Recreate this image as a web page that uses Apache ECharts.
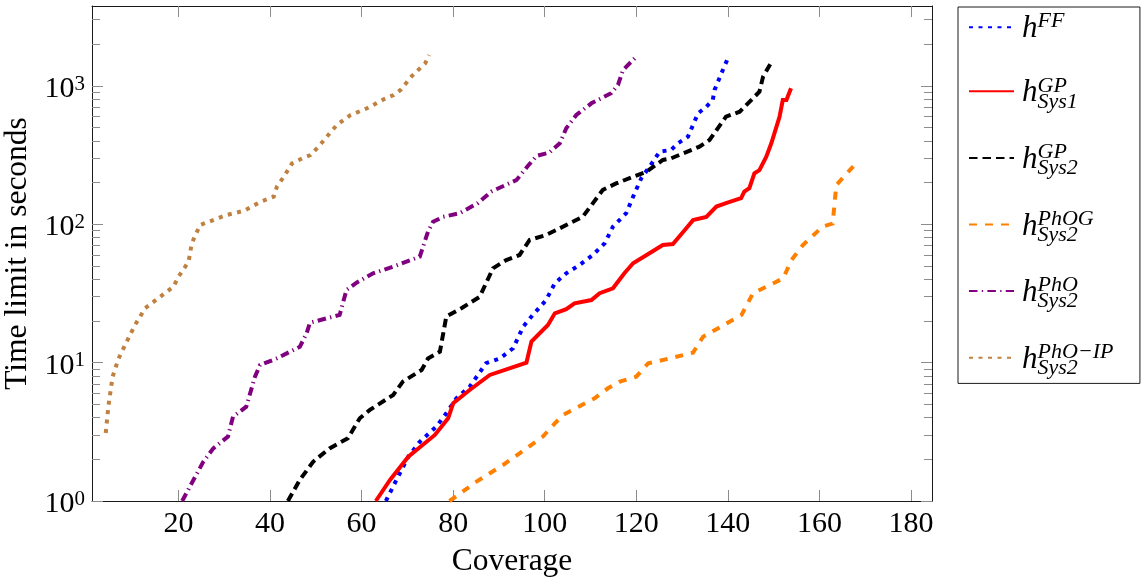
<!DOCTYPE html>
<html>
<head>
<meta charset="utf-8">
<script src="https://cdn.jsdelivr.net/npm/echarts@6/dist/echarts.min.js"></script>
<style>
  html, body { margin: 0; padding: 0; background: #fff; }
  #chart { width: 1145px; height: 583px; }
</style>
</head>
<body>
<div id="chart"></div>
<script>
// Coverage (x) and time limit in seconds (y) for each heuristic
const coverageFF = [65.3, 67.6, 70.2, 72.7, 76.3, 78.5, 80.7, 83.6, 87.2, 90.2, 93.1, 95.3, 97.4, 100.3, 102.2, 104.7, 107.6, 110.5, 113.1, 114.9, 117.8, 119.3, 121.1, 122.9, 125.1, 127.6, 129.1, 131.3, 133.5, 135.3, 136.7, 137.1, 138.6, 140.0];
const timeFF     = [1.0, 1.42, 2.09, 2.68, 3.44, 4.3, 5.52, 6.7, 9.9, 10.7, 12.7, 18.2, 22.1, 28.3, 37.4, 44.2, 50.7, 59.9, 72.8, 96, 120, 158, 215, 260, 334, 344, 384, 429, 633, 706, 789, 933, 1232, 1580];

const coverageGPSys1 = [63.1, 66.2, 70.2, 76.0, 78.9, 80.0, 83.6, 88.0, 96.0, 97.1, 100.7, 102.2, 104.7, 106.5, 110.2, 112.0, 114.9, 117.4, 119.3, 121.1, 125.8, 128.0, 130.6, 132.4, 135.3, 137.5, 139.6, 142.9, 143.6, 144.7, 145.8, 146.9, 148.4, 149.5, 151.3, 152.0, 152.8, 153.8];
const timeGPSys1     = [1.0, 1.42, 2.09, 3.0, 3.96, 5.08, 6.34, 8.14, 9.98, 14.2, 18.7, 22.7, 24.3, 26.8, 28.3, 31.7, 34.4, 44.2, 52.2, 56.7, 70.7, 71.9, 90.8, 107, 113, 134, 142, 154, 172, 182, 233, 246, 307, 384, 598, 789, 789, 959];

const coverageGPSys2 = [43.9, 46.5, 49.4, 53.0, 57.0, 59.6, 61.8, 66.9, 69.0, 73.1, 74.5, 77.1, 78.5, 81.8, 85.8, 88.7, 91.6, 94.5, 96.7, 100.3, 103.3, 108.3, 112.7, 115.6, 119.3, 122.2, 125.8, 127.6, 133.8, 136.0, 139.6, 142.6, 146.9, 147.7, 149.8];
const timeGPSys2     = [1.0, 1.42, 1.92, 2.4, 2.84, 3.96, 4.55, 5.84, 7.28, 8.84, 10.7, 12.0, 21.5, 24.7, 29.9, 48.0, 55.1, 59.9, 76.9, 83.5, 93.4, 113, 177, 197, 220, 239, 291, 299, 363, 406, 598, 650, 906, 1164, 1536];

const coveragePhOG = [79.2, 85.1, 90.9, 94.5, 99.6, 102.2, 104.0, 110.9, 113.8, 116.4, 120.0, 122.6, 125.1, 132.4, 134.6, 137.2, 143.0, 145.5, 152.1, 153.9, 156.4, 160.7, 162.9, 163.7, 168.0];
const timePhOG     = [1.0, 1.38, 1.82, 2.21, 2.92, 3.64, 4.18, 5.52, 6.52, 7.28, 7.91, 9.89, 10.3, 11.8, 15.4, 17.2, 22.1, 31.7, 40.6, 55.1, 70.7, 96, 101, 192, 275];

const coveragePhO = [20.8, 25.4, 27.6, 30.8, 31.9, 34.8, 36.7, 37.8, 41.4, 46.5, 48.0, 48.7, 55.2, 56.7, 58.9, 62.5, 66.9, 72.7, 74.5, 75.6, 77.8, 81.4, 85.4, 88.3, 93.8, 96.3, 98.2, 101.0, 103.3, 104.7, 106.9, 110.2, 114.5, 116.0, 117.1, 120.0];
const timePhO     = [1.0, 1.92, 2.4, 2.92, 4.06, 4.8, 7.9, 9.6, 10.7, 13.0, 16.3, 19.4, 22.1, 33.5, 37.8, 44.2, 49.3, 58.2, 88.3, 104, 113, 120, 142, 172, 208, 263, 311, 329, 384, 493, 615, 747, 883, 1013, 1300, 1623];

const coveragePhOIP = [4.1, 4.7, 5.6, 6.9, 8.7, 10.5, 12.7, 16.0, 18.9, 20.0, 22.2, 22.9, 24.7, 26.6, 30.3, 34.3, 37.9, 40.8, 41.5, 43.0, 44.8, 47.0, 48.8, 50.6, 52.4, 54.6, 57.6, 61.2, 64.8, 67.0, 68.5, 71.0, 73.9, 74.7];
const timePhOIP     = [3.1, 4.9, 7.9, 10.7, 14.2, 18.7, 24.7, 29.9, 35.4, 41.8, 53.6, 72.8, 98.6, 104, 116, 125, 145, 158, 187, 220, 275, 299, 316, 363, 429, 521, 615, 688, 798, 858, 933, 1178, 1455, 1670];

// Axis tick positions
const xTicks = [20, 40, 60, 80, 100, 120, 140, 160, 180];
const yMajorTicks = [1, 10, 100, 1000];
const yMinorTicks = [2, 3, 4, 5, 6, 7, 8, 9, 20, 30, 40, 50, 60, 70, 80, 90, 200, 300, 400, 500, 600, 700, 800, 900, 2000, 3000];

// Legend entries: key, superscript, subscript of the heuristic symbol h
const legendKeys = ['FF', 'GPSys1', 'GPSys2', 'PhOGSys2', 'PhOSys2', 'PhOIPSys2'];
const legendSup  = ['FF', 'GP', 'GP', 'PhOG', 'PhO', 'PhO\u2212IP'];
const legendSub  = ['', 'Sys1', 'Sys2', 'Sys2', 'Sys2', 'Sys2'];

const FONT = 'Liberation Serif';
const X_MIN = 1.1, X_MAX = 184.6;
const Y_MIN = 1, Y_MAX = 3770;
const LINE_W = 4;

const zip = (xs, ys) => xs.map((x, i) => [x, ys[i]]);

const seriesDefs = [
  { key: 'FF',        data: zip(coverageFF, timeFF),         color: '#0000ff', dash: [4, 5.5] },
  { key: 'GPSys1',    data: zip(coverageGPSys1, timeGPSys1), color: '#ff0000', dash: 'solid' },
  { key: 'GPSys2',    data: zip(coverageGPSys2, timeGPSys2), color: '#000000', dash: [8.5, 5] },
  { key: 'PhOGSys2',  data: zip(coveragePhOG, timePhOG),     color: '#ff8000', dash: [8, 8] },
  { key: 'PhOSys2',   data: zip(coveragePhO, timePhO),       color: '#800080', dash: [8.5, 4.3, 1.3, 4.3] },
  { key: 'PhOIPSys2', data: zip(coveragePhOIP, timePhOIP),   color: '#bf8040', dash: [4, 5.5] }
];

// Two text lines per entry: "h" with its superscript, then a spacer and the subscript
const legendText = {};
legendKeys.forEach((k, i) => {
  legendText[k] = '{h|h}{sup|' + legendSup[i] + '}\n{hp|h}' + (legendSub[i] ? '{sub|' + legendSub[i] + '}' : '');
});

const tickStyle = { color: '#8c8c8c', width: 1 };
const frameStyle = { color: '#1a1a1a', width: 1 };

const chart = echarts.init(document.getElementById('chart'), null, { renderer: 'canvas' });

chart.setOption({
  animation: false,
  textStyle: { fontFamily: FONT },
  grid: { left: 92, top: 6, width: 840, height: 495, containLabel: false, outerBoundsMode: 'none' },
  legend: {
    orient: 'vertical',
    left: 958,
    top: 7,
    padding: [3.7, 26.5, 4.2, 10],
    itemGap: 28.6,
    itemWidth: 45,
    itemHeight: 14,
    borderColor: '#1a1a1a',
    borderWidth: 1,
    selectedMode: false,
    data: legendKeys,
    itemStyle: { opacity: 0, borderWidth: 0 },
    formatter: name => legendText[name],
    textStyle: {
      fontFamily: FONT,
      color: '#000',
      rich: {
        h:   { fontFamily: FONT, fontStyle: 'italic', fontSize: 31, lineHeight: 24, height: 0.1, verticalAlign: 'bottom', padding: [0, 0, 0, 3], color: '#000' },
        sup: { fontFamily: FONT, fontStyle: 'italic', fontSize: 22, lineHeight: 24, height: 15, verticalAlign: 'bottom', color: '#000' },
        hp:  { fontFamily: FONT, fontStyle: 'italic', fontSize: 31, lineHeight: 20, height: 3, verticalAlign: 'top', padding: [0, 0, 0, 3], color: 'rgba(0,0,0,0)' },
        sub: { fontFamily: FONT, fontStyle: 'italic', fontSize: 22, lineHeight: 20, height: 17, verticalAlign: 'top', color: '#000' }
      }
    }
  },
  xAxis: [
    {
      type: 'value', position: 'bottom', min: X_MIN, max: X_MAX,
      axisLine: { show: true, onZero: false, lineStyle: frameStyle },
      axisTick: { show: true, inside: true, length: 11, customValues: xTicks, lineStyle: tickStyle },
      axisLabel: { show: true, customValues: xTicks, margin: 8, fontFamily: FONT, fontSize: 30, lineHeight: 30, color: '#000' },
      splitLine: { show: false },
      name: 'Coverage', nameLocation: 'middle', nameGap: 45,
      nameTextStyle: { fontFamily: FONT, fontSize: 31.5, lineHeight: 31, color: '#000' }
    },
    {
      type: 'value', position: 'top', min: X_MIN, max: X_MAX,
      axisLine: { show: true, onZero: false, lineStyle: frameStyle },
      axisTick: { show: true, inside: true, length: 11, customValues: xTicks, lineStyle: tickStyle },
      axisLabel: { show: false },
      splitLine: { show: false }
    }
  ],
  yAxis: [
    {
      type: 'log', logBase: 10, position: 'left', min: Y_MIN, max: Y_MAX,
      axisLine: { show: true, onZero: false, lineStyle: frameStyle },
      axisTick: { show: true, inside: true, length: 11, customValues: yMajorTicks, lineStyle: tickStyle },
      axisLabel: {
        show: true, customValues: yMajorTicks, margin: 7,
        formatter: v => '{b|10}{e|' + Math.round(Math.log10(v)) + '}',
        rich: {
          b: { fontFamily: FONT, fontSize: 30, lineHeight: 30, padding: [6.8, 0, 0, 0], color: '#000' },
          e: { fontFamily: FONT, fontSize: 21, lineHeight: 30, padding: [0, 0, 3.4, 0], color: '#000' }
        }
      },
      splitLine: { show: false },
      name: 'Time limit in seconds', nameLocation: 'middle', nameGap: 52, nameRotate: 90,
      nameTextStyle: { fontFamily: FONT, fontSize: 31.5, lineHeight: 31, color: '#000' }
    },
    {
      type: 'log', logBase: 10, position: 'left', min: Y_MIN, max: Y_MAX,
      axisLine: { show: false },
      axisTick: { show: true, inside: true, length: 8, customValues: yMinorTicks, lineStyle: tickStyle },
      axisLabel: { show: false },
      splitLine: { show: false }
    },
    {
      type: 'log', logBase: 10, position: 'right', min: Y_MIN, max: Y_MAX,
      axisLine: { show: true, onZero: false, lineStyle: frameStyle },
      axisTick: { show: true, inside: true, length: 11, customValues: yMajorTicks, lineStyle: tickStyle },
      axisLabel: { show: false },
      splitLine: { show: false }
    },
    {
      type: 'log', logBase: 10, position: 'right', min: Y_MIN, max: Y_MAX,
      axisLine: { show: false },
      axisTick: { show: true, inside: true, length: 8, customValues: yMinorTicks, lineStyle: tickStyle },
      axisLabel: { show: false },
      splitLine: { show: false }
    }
  ],
  series: seriesDefs.map((s, i) => ({
    name: s.key,
    type: 'line',
    xAxisIndex: 0,
    yAxisIndex: 0,
    data: s.data,
    symbol: 'none',
    showSymbol: false,
    smooth: false,
    clip: true,
    z: 2 + i,
    itemStyle: { color: s.color },
    lineStyle: { color: s.color, width: LINE_W, type: s.dash, cap: 'butt', join: 'miter' },
    emphasis: { disabled: true }
  }))
});
</script>
</body>
</html>
